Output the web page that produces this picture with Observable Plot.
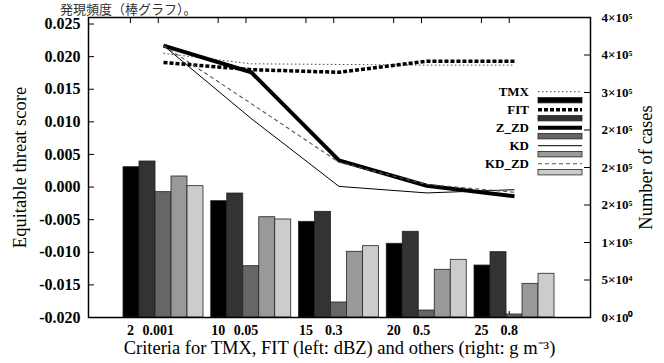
<!DOCTYPE html>
<html><head><meta charset="utf-8">
<script src="https://cdn.jsdelivr.net/npm/d3@7"></script>
<script src="https://cdn.jsdelivr.net/npm/@observablehq/plot@0.6"></script>
<style>
html,body{margin:0;padding:0;background:#fff;overflow:hidden}
#wrap{position:relative;width:664px;height:363px;overflow:hidden;background:#fff}
#top{position:absolute;left:60px;top:1px;font-size:13px;font-family:"Noto Sans CJK JP";color:#333;white-space:nowrap;line-height:15px}
#legend{position:absolute;left:0;top:0}
</style></head><body>
<div id="wrap"><div id="top">発現頻度（棒グラフ）。</div></div>
<script>
// ---- data ----
const series = ["TMX", "FIT", "Z_ZD", "KD", "KD_ZD"];
const leftCriteria = ["2", "10", "15", "20", "25"];        // dBZ
const rightCriteria = ["0.001", "0.05", "0.3", "0.5", "0.8"]; // g m-3
// Equitable threat score (lines, left axis)
const etsTMX   = [0.0205, 0.0189, 0.0188, 0.0187, 0.0187];
const etsFIT   = [0.0191, 0.0180, 0.0176, 0.0193, 0.0193];
const etsZ_ZD  = [0.0217, 0.0176, 0.0041, 0.0002, -0.0014];
const etsKD    = [0.0217, 0.0105, 0.0001, -0.0009, -0.0004];
const etsKD_ZD = [0.0217, 0.0128, 0.0038, 0.0004, -0.0008];
// Number of cases (bars, right axis)
const casesTMX   = [200400, 155100, 127600, 98300, 69300];
const casesFIT   = [208000, 165300, 140900, 114300, 87100];
const casesZ_ZD  = [167100, 68400, 20000, 9300, 4000];
const casesKD    = [188000, 133700, 87600, 63600, 44900];
const casesKD_ZD = [175100, 130700, 95100, 76900, 58300];
// axes
const etsTicks = [-0.020, -0.015, -0.010, -0.005, 0.000, 0.005, 0.010, 0.015, 0.020, 0.025];
const caseTicks = [0, 50000, 100000, 150000, 200000, 250000, 300000, 350000, 400000];
const caseTickLabels = ["0×10⁰", "5×10⁴", "1×10⁵", "2×10⁵", "2×10⁵", "2×10⁵", "3×10⁵", "4×10⁵", "4×10⁵"];
const barColors = ["#000000", "#333333", "#666666", "#999999", "#cccccc"];

// ---- build tables ----
const etsAll = [etsTMX, etsFIT, etsZ_ZD, etsKD, etsKD_ZD];
const casesAll = [casesTMX, casesFIT, casesZ_ZD, casesKD, casesKD_ZD];
const etsMin = -0.020, etsMax = 0.026, casesMax = 400000;
const toEts = c => etsMin + c / casesMax * (etsMax - etsMin);
const barW = 0.1823;
const SERIF = "Liberation Serif, Times New Roman, serif";

const bars = [];
casesAll.forEach((arr, k) => arr.forEach((v, g) => bars.push({g, k, s: series[k], v})));
const lineRows = [];
etsAll.forEach((arr, k) => arr.forEach((v, g) => lineRows.push({g, k, s: series[k], v})));

const xTickRows = [];
leftCriteria.forEach((t, g) => {
  xTickRows.push({x: g - 0.377, t});
  xTickRows.push({x: g - 0.06, t: rightCriteria[g]});
});

const lineStyles = {
  TMX:   {stroke: "#444", strokeWidth: 1, strokeDasharray: "1.5,2.5"},
  FIT:   {stroke: "#000", strokeWidth: 3.5, strokeDasharray: "4,2"},
  Z_ZD:  {stroke: "#000", strokeWidth: 4, strokeDasharray: null},
  KD:    {stroke: "#000", strokeWidth: 1, strokeDasharray: null},
  KD_ZD: {stroke: "#555", strokeWidth: 1.1, strokeDasharray: "4,3"}
};

const frameW = 664 - 88 - 74, frameH = 363 - 17 - 46;

const lineMarks = series.map(s => Plot.line(lineRows.filter(d => d.s === s), {
  x: "g", y: "v", ...lineStyles[s], strokeLinejoin: "miter", strokeLinecap: "butt"
}));

const chart = Plot.plot({
  width: 664, height: 363,
  marginLeft: 88, marginRight: 74, marginTop: 17, marginBottom: 46,
  x: {domain: [-0.8547, 4.866], axis: null},
  y: {domain: [etsMin, etsMax], axis: null},
  style: {fontFamily: SERIF, color: "#000", background: "transparent"},
  marks: [
    // bottom & top x ticks (inward)
    Plot.tickX(xTickRows, {x: "x", insetTop: frameH - 6, stroke: "#000"}),
    Plot.tickX(xTickRows, {x: "x", insetBottom: frameH - 6, stroke: "#000"}),
    // bars
    Plot.rectY(bars, {
      x1: d => d.g + (d.k - 2.5) * barW,
      x2: d => d.g + (d.k - 1.5) * barW,
      y1: etsMin, y2: d => toEts(d.v),
      fill: d => barColors[d.k], stroke: "#222", strokeWidth: 0.8
    }),
    ...lineMarks,
    // left axis ticks & labels
    Plot.tickY(etsTicks, {y: d => d, insetRight: frameW - 6, stroke: "#000"}),
    Plot.text(etsTicks, {y: d => d, text: d => d.toFixed(3), frameAnchor: "left", textAnchor: "end", dx: -8,
      fontSize: 16, fontWeight: "bold", fontFamily: SERIF}),
    // right axis ticks & labels
    Plot.tickY(caseTicks, {y: d => toEts(d), insetLeft: frameW - 6, stroke: "#000"}),
    Plot.text(caseTicks, {y: d => toEts(d), text: (d, i) => caseTickLabels[i], frameAnchor: "right", textAnchor: "start", dx: 11,
      fontSize: 13, fontWeight: "bold", fontFamily: SERIF}),
    // x tick labels
    Plot.text(xTickRows, {x: "x", text: "t", frameAnchor: "bottom", dy: 17, fontSize: 14, fontWeight: "bold", fontFamily: SERIF}),
    // titles
    Plot.text(["Criteria for TMX, FIT (left: dBZ) and others (right: g m⁻³)"], {frameAnchor: "bottom", dy: 36, fontSize: 18.5, fontFamily: SERIF}),
    Plot.text(["Equitable threat score"], {frameAnchor: "left", textAnchor: "middle", dx: -68, rotate: -90, fontSize: 18.5, fontFamily: SERIF}),
    Plot.text(["Number of cases"], {frameAnchor: "right", textAnchor: "middle", dx: 56, rotate: -90, fontSize: 18.5, fontFamily: SERIF}),
    Plot.frame({stroke: "#000", strokeWidth: 1.5})
  ]
});
document.getElementById("wrap").prepend(chart);

// ---- legend overlay ----
const ns = "http://www.w3.org/2000/svg";
const leg = document.createElementNS(ns, "svg");
leg.setAttribute("id", "legend");
leg.setAttribute("width", 664); leg.setAttribute("height", 363);
series.forEach((s, i) => {
  const y = 91.7 + 18 * i;
  const t = document.createElementNS(ns, "text");
  t.setAttribute("x", 529); t.setAttribute("y", y);
  t.setAttribute("text-anchor", "end"); t.setAttribute("dominant-baseline", "central");
  t.setAttribute("font-family", SERIF);
  t.setAttribute("font-size", 13); t.setAttribute("font-weight", "bold");
  t.textContent = s;
  leg.appendChild(t);
  const l = document.createElementNS(ns, "line");
  l.setAttribute("x1", 538); l.setAttribute("x2", 582);
  l.setAttribute("y1", y); l.setAttribute("y2", y);
  const st = lineStyles[s];
  l.setAttribute("stroke", st.stroke); l.setAttribute("stroke-width", st.strokeWidth);
  if (st.strokeDasharray) l.setAttribute("stroke-dasharray", st.strokeDasharray);
  leg.appendChild(l);
  const r = document.createElementNS(ns, "rect");
  r.setAttribute("x", 538); r.setAttribute("width", 44);
  r.setAttribute("y", y + 5.8); r.setAttribute("height", 5.4);
  r.setAttribute("fill", barColors[i]); r.setAttribute("stroke", "#222"); r.setAttribute("stroke-width", 0.8);
  leg.appendChild(r);
});
document.getElementById("wrap").appendChild(leg);
</script>
</body></html>
